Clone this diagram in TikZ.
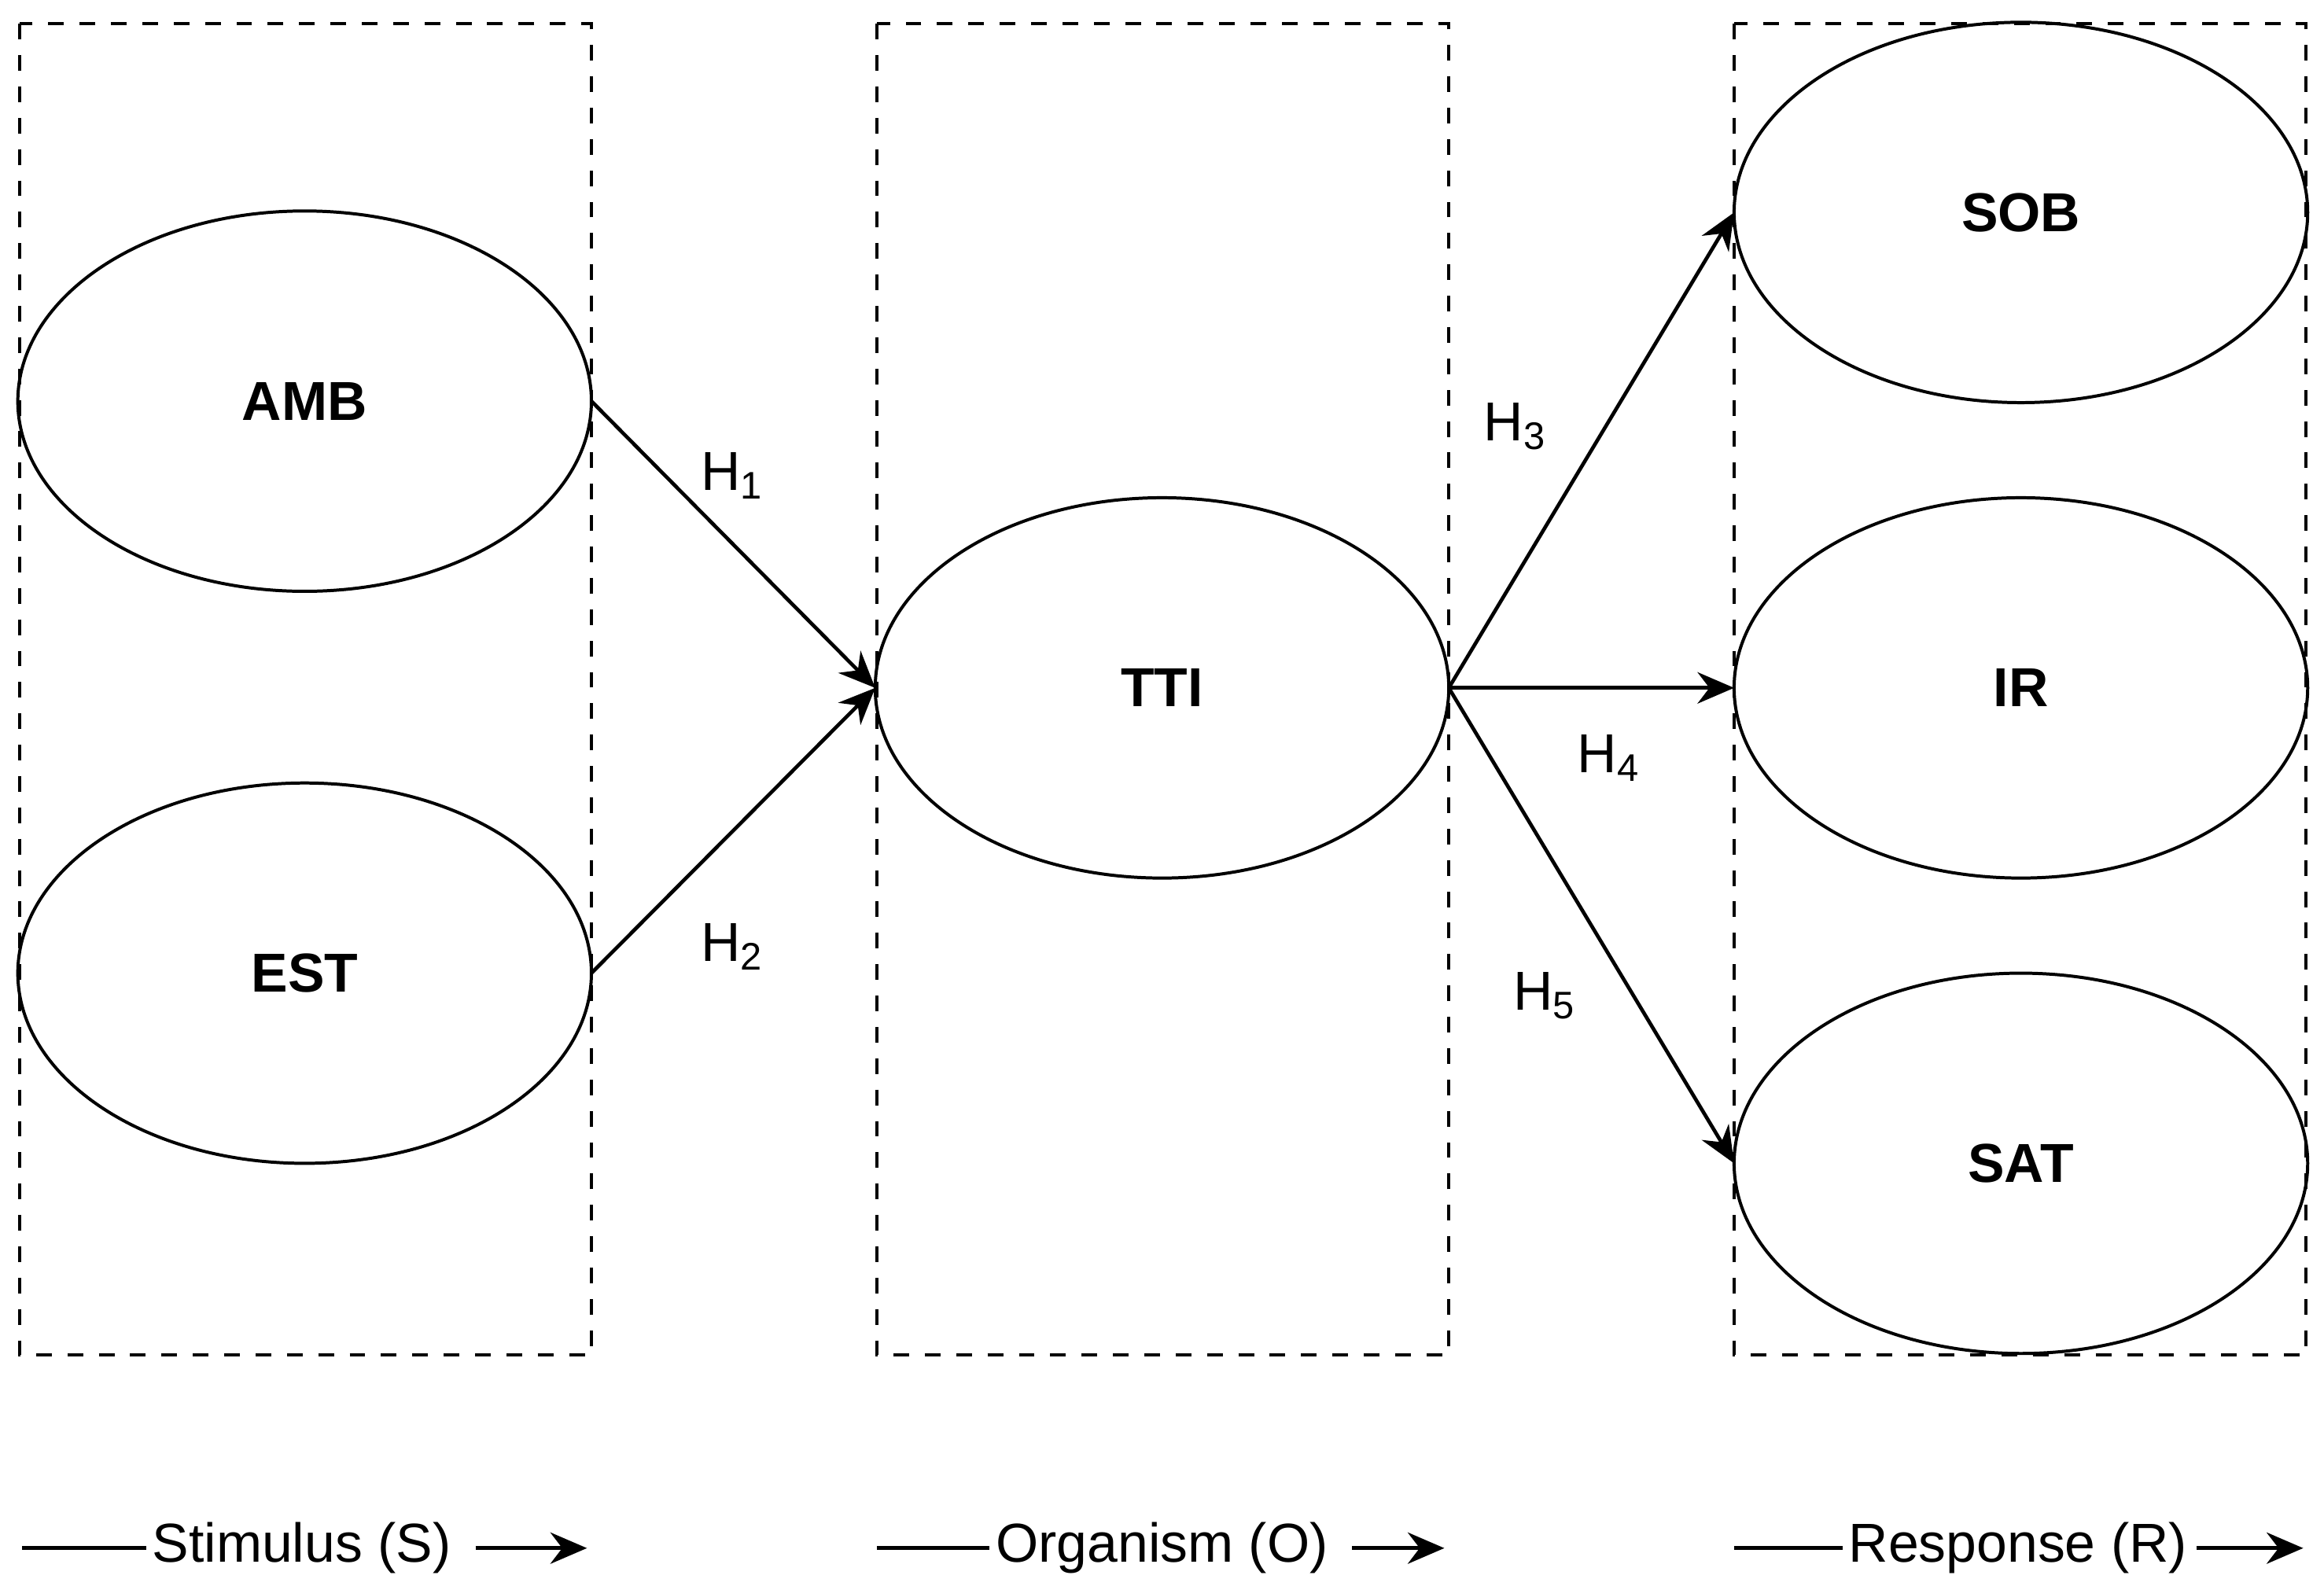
\documentclass[tikz,border=0pt]{standalone}
\usepackage{fontspec}
\setmainfont{Liberation Sans}
\usetikzlibrary{arrows.meta}
\begin{document}
\begin{tikzpicture}[x=0.01cm,y=-0.01cm,
  box/.style={draw,dashed,line width=0.6pt},
  arr/.style={-{Stealth[length=7pt,width=6pt]},line width=0.7pt},
  lab/.style={font=\fontsize{10.5}{12}\selectfont},
  captxt/.style={font=\fontsize{10.5}{12}\selectfont,inner sep=1pt}]
\useasboundingbox (0,0) rectangle (1564,1070);
\draw[box] (13,16) rectangle (398,912);
\draw[box] (590,16) rectangle (975,912);
\draw[box] (1167,16) rectangle (1552,912);
\foreach \n/\x/\y/\t in {amb/205/270/AMB,est/205/655/EST,tti/782/463/TTI,sob/1360/143/SOB,ir/1360/463/IR,sat/1360/783/SAT}{
  \draw[line width=0.6pt] (\x,\y) ellipse [x radius=193, y radius=128];
  \node[font=\bfseries\fontsize{10.5}{12}\selectfont] (\n) at (\x,\y) {\t};
  \coordinate (\n W) at (\x-193,\y);
  \coordinate (\n E) at (\x+193,\y);
}
\draw[arr] (ambE) -- (ttiW);
\draw[arr] (estE) -- (ttiW);
\draw[arr] (ttiE) -- (sobW);
\draw[arr] (ttiE) -- (irW);
\draw[arr] (ttiE) -- (satW);
\node[lab] (h1) at (493,320) {H\textsubscript{1}};
\node[lab] (h2) at (493,637) {H\textsubscript{2}};
\node[lab] (h3) at (1020,287) {H\textsubscript{3}};
\node[lab] (h4) at (1083,510) {H\textsubscript{4}};
\node[lab] (h5) at (1040,670) {H\textsubscript{5}};
\foreach \n/\a/\c/\t/\b/\e in {s/15/203/Stimulus (S)/320/395, o/590/782/Organism (O)/910/972, r/1167/1358/Response (R)/1478/1550}{
  \node[captxt] (\n) at (\c,1042) {\t};
  \coordinate (\n a) at (\a,1042);
  \coordinate (\n b) at (\b,1042);
  \coordinate (\n e) at (\e,1042);
  \draw[line width=0.7pt] (\n a) -- (\n.west);
  \draw[arr] (\n b) -- (\n e);
}
\end{tikzpicture}
\end{document}
